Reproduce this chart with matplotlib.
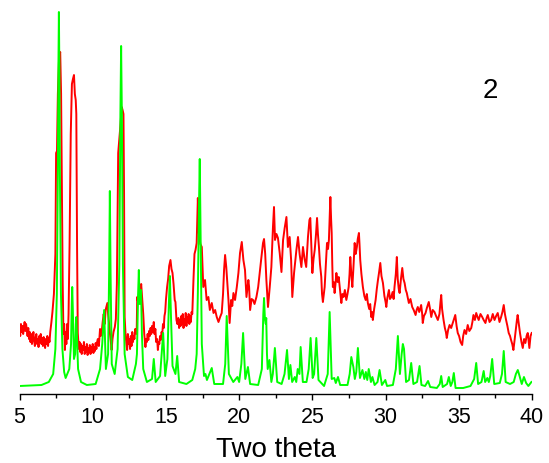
import matplotlib
matplotlib.use("Agg")
import matplotlib.pyplot as plt
from matplotlib.ticker import MultipleLocator

# ---- simulated pattern (green): two-theta, intensity ----
sim_tt = [5.0, 6.5, 7.0, 7.3, 7.45, 7.55, 7.62, 7.66, 7.69, 7.72, 7.76, 7.83, 7.93, 8.05, 8.15,
          8.4, 8.52, 8.57, 8.6, 8.64, 8.72, 8.8, 8.85, 8.88, 8.92, 9.0, 9.2, 9.6,
          10.2, 10.5, 10.65, 10.78, 10.9, 11.05, 11.12, 11.17, 11.22, 11.3, 11.5, 11.7, 11.82, 11.89, 11.94,
          11.99, 12.06, 12.18, 12.4, 12.7,
          12.95, 13.02, 13.1, 13.15, 13.2, 13.25, 13.3, 13.36, 13.45, 13.7, 14.05, 14.17, 14.3, 14.6, 14.81, 14.95,
          15.1, 15.2, 15.27, 15.34, 15.45,
          15.65, 15.77, 15.9, 16.4, 16.8, 17.0, 17.1, 17.18, 17.26, 17.31, 17.36, 17.45, 17.6, 17.7, 17.8, 18.13,
          18.3, 18.9,
          19.05, 19.15, 19.3, 19.6, 19.88, 20.0, 20.15, 20.27, 20.42, 20.6, 20.75, 21.3, 21.55, 21.65, 21.7, 21.76,
          21.82, 21.85, 21.9, 21.95,
          22.07, 22.2, 22.3, 22.44, 22.6, 22.9, 23.1, 23.27, 23.4, 23.5, 23.62, 23.8, 23.9, 24.0, 24.12, 24.2,
          24.35, 24.6, 24.75, 24.88, 25.02, 25.12, 25.27, 25.42, 25.8, 26.05, 26.18, 26.32, 26.5, 26.6, 26.75,
          26.9, 27.4, 27.55, 27.66, 27.8, 27.9, 28.0, 28.11, 28.25, 28.42, 28.55, 28.65, 28.75, 28.85, 29.0, 29.1,
          29.25, 29.45, 29.59, 29.75, 29.98, 30.1, 30.5, 30.7, 30.84, 30.98, 31.1, 31.18, 31.26, 31.4, 31.6, 31.75,
          31.9, 32.15, 32.32, 32.45, 32.7, 32.9, 33.05, 33.5, 33.7, 33.8, 33.9, 34.2, 34.32, 34.45, 34.56, 34.66,
          34.78, 35.3, 35.8, 36.05, 36.19, 36.32, 36.55, 36.7, 36.8, 36.95, 37.05, 37.15, 37.28, 37.42, 37.8,
          37.95, 38.07, 38.2, 38.5, 38.75, 38.9, 39.03, 39.15, 39.3, 39.45, 39.6, 39.75, 39.96]
sim_int = [8, 9, 12, 20, 45, 100, 220, 330, 382, 330, 220, 100, 45, 22, 16,
           25, 50, 90, 107, 85, 35, 40, 70, 77, 60, 25, 12, 9,
           10, 25, 50, 84, 25, 40, 120, 203, 120, 30, 20, 45, 130, 280, 348,
           280, 130, 40, 17, 14,
           30, 40, 100, 124, 90, 95, 104, 60, 25, 12, 15, 35, 12, 18, 61, 18,
           35, 90, 118, 80, 28,
           20, 38, 12, 10, 14, 25, 40, 101, 190, 235, 170, 50, 18, 20, 14, 26,
           10, 10,
           30, 78, 20, 12, 17, 12, 30, 61, 15, 27, 10, 9, 25, 80, 96, 75,
           70, 76, 40, 25,
           34, 12, 20, 46, 12, 10, 20, 44, 15, 29, 12, 17, 12, 25, 20, 47,
           12, 12, 25, 56, 16, 20, 56, 14, 8, 20, 82, 15, 16, 11, 17,
           9, 9, 20, 37, 27, 15, 22, 46, 16, 24, 15, 22, 14, 25, 12, 17,
           9, 12, 24, 9, 14, 8, 9, 25, 58, 20, 40, 50, 45, 12, 14, 31,
           10, 12, 28, 9, 8, 13, 7, 6, 10, 18, 7, 10, 17, 8, 12, 21,
           6, 6, 8, 15, 31, 10, 12, 23, 12, 16, 12, 18, 35, 10, 11,
           20, 43, 12, 10, 12, 20, 24, 18, 10, 17, 11, 8, 12]

# ---- experimental pattern (red): two-theta, intensity ----
exp_tt = [5.00, 5.05, 5.10, 5.15, 5.20, 5.25, 5.30, 5.35, 5.40, 5.45, 5.50, 5.55, 5.60, 5.65, 5.70, 5.75, 5.80,
          5.85, 5.90, 5.95, 6.00, 6.05, 6.10, 6.15, 6.20, 6.25, 6.30, 6.35, 6.40, 6.45, 6.50, 6.55, 6.60, 6.65,
          6.70, 6.75, 6.80, 6.85, 6.90, 6.95, 7.00, 7.05, 7.10, 7.18, 7.25, 7.35, 7.45, 7.50, 7.56, 7.62, 7.70,
          7.78, 7.84, 7.90, 7.95, 8.00, 8.05, 8.10, 8.15, 8.20, 8.25, 8.30, 8.35, 8.42, 8.50, 8.58, 8.65, 8.72,
          8.78, 8.84, 8.88, 8.93, 8.98, 9.05, 9.10, 9.15, 9.20, 9.25, 9.30, 9.35, 9.40, 9.45, 9.50, 9.55, 9.60,
          9.65, 9.70, 9.75, 9.80, 9.85, 9.90, 9.95, 10.00, 10.05, 10.10, 10.15, 10.20, 10.25, 10.30, 10.35, 10.42,
          10.50, 10.55, 10.60, 10.68, 10.75, 10.82, 10.88, 10.95, 11.00, 11.05, 11.12, 11.18, 11.24, 11.29, 11.35,
          11.42, 11.51, 11.58, 11.65, 11.74, 11.82, 11.90, 11.98, 12.04, 12.10, 12.14, 12.18, 12.24, 12.30, 12.35,
          12.40, 12.45, 12.50, 12.55, 12.60, 12.65, 12.70, 12.75, 12.80, 12.85, 12.90, 12.95, 13.00, 13.04, 13.10,
          13.18, 13.25, 13.31, 13.38, 13.45, 13.52, 13.60, 13.65, 13.70, 13.75, 13.80, 13.85, 13.90, 13.95, 14.00,
          14.05, 14.10, 14.17, 14.22, 14.28, 14.33, 14.40, 14.45, 14.50, 14.55, 14.60, 14.65, 14.70, 14.75, 14.80,
          14.85, 14.90, 14.95, 15.00, 15.08, 15.15, 15.22, 15.31, 15.38, 15.45, 15.52, 15.60, 15.65, 15.72, 15.78,
          15.85, 15.90, 15.95, 16.00, 16.05, 16.10, 16.15, 16.20, 16.25, 16.30, 16.35, 16.40, 16.45, 16.50, 16.55,
          16.60, 16.65, 16.70, 16.75, 16.80, 16.88, 16.95, 17.02, 17.10, 17.18, 17.25, 17.35, 17.45, 17.55, 17.67,
          17.78, 17.90, 18.00, 18.13, 18.25, 18.36, 18.47, 18.59, 18.70, 18.81, 18.90, 18.97, 19.04, 19.12, 19.20,
          19.27, 19.35, 19.45, 19.53, 19.61, 19.72, 19.84, 19.95, 20.06, 20.18, 20.29, 20.40, 20.50, 20.63, 20.68,
          20.75, 20.85, 20.95, 21.05, 21.18, 21.30, 21.40, 21.50, 21.63, 21.70, 21.78, 21.86, 21.97, 22.09, 22.20,
          22.31, 22.38, 22.45, 22.55, 22.65, 22.77, 22.89, 23.00, 23.11, 23.23, 23.33, 23.45, 23.55, 23.63, 23.75,
          23.91, 24.02, 24.13, 24.25, 24.36, 24.47, 24.58, 24.70, 24.80, 24.86, 24.95, 25.00, 25.08, 25.16, 25.25,
          25.32, 25.38, 25.45, 25.52, 25.61, 25.66, 25.72, 25.78, 25.84, 25.92, 26.00, 26.07, 26.13, 26.18, 26.23,
          26.28, 26.32, 26.36, 26.40, 26.46, 26.52, 26.58, 26.64, 26.72, 26.80, 26.88, 26.98, 27.05, 27.13, 27.22,
          27.32, 27.40, 27.48, 27.54, 27.59, 27.66, 27.73, 27.80, 27.89, 27.96, 28.04, 28.10, 28.18, 28.22, 28.27,
          28.35, 28.45, 28.55, 28.64, 28.72, 28.79, 28.88, 28.95, 29.02, 29.08, 29.13, 29.22, 29.32, 29.40, 29.48,
          29.56, 29.64, 29.72, 29.82, 29.92, 30.00, 30.05, 30.12, 30.23, 30.30, 30.39, 30.48, 30.55, 30.61, 30.70,
          30.77, 30.83, 30.90, 30.96, 31.05, 31.14, 31.22, 31.30, 31.38, 31.45, 31.52, 31.59, 31.70, 31.82, 31.92,
          32.05, 32.12, 32.20, 32.30, 32.43, 32.50, 32.54, 32.62, 32.73, 32.82, 32.95, 33.05, 33.12, 33.22, 33.34,
          33.45, 33.57, 33.68, 33.75, 33.80, 33.86, 33.96, 34.05, 34.12, 34.18, 34.27, 34.37, 34.48, 34.59, 34.68,
          34.76, 34.85, 34.93, 35.02, 35.12, 35.23, 35.30, 35.39, 35.50, 35.61, 35.72, 35.85, 35.93, 36.00, 36.10,
          36.19, 36.28, 36.36, 36.48, 36.60, 36.70, 36.82, 36.90, 36.98, 37.10, 37.21, 37.32, 37.44, 37.55, 37.66,
          37.78, 37.89, 37.98, 38.07, 38.15, 38.23, 38.32, 38.41, 38.50, 38.57, 38.65, 38.73, 38.82, 38.91, 38.97,
          39.02, 39.10, 39.18, 39.28, 39.37, 39.46, 39.55, 39.63, 39.71, 39.77, 39.82, 39.90, 39.98]
exp_int = [66, 58, 70, 62, 68, 60, 66, 72, 63, 70, 64, 58, 66, 55, 62, 52, 60,
           50, 57, 62, 53, 48, 56, 60, 50, 55, 47, 58, 52, 60, 50, 56, 48, 57,
           53, 46, 55, 50, 58, 48, 56, 52, 62, 72, 82, 100, 140, 241, 243, 300, 335,
           342, 300, 200, 110, 60, 70, 44, 62, 50, 70, 55, 80, 150, 260, 310, 315, 319,
           300, 294, 280, 150, 61, 45, 52, 42, 50, 40, 48, 44, 52, 40, 47, 42, 50,
           39, 46, 42, 49, 40, 47, 43, 50, 41, 47, 43, 51, 45, 52, 55, 48,
           65, 58, 60, 72, 80, 70, 84, 88, 91, 80, 70, 60, 52, 44, 55,
           62, 67, 75, 110, 241, 255, 270, 287, 284, 280, 200, 77, 60, 50, 44,
           60, 50, 55, 45, 58, 48, 62, 52, 58, 55, 65, 62, 60, 97, 92,
           104, 100, 110, 95, 80, 60, 47, 55, 52, 60, 54, 63, 58, 66, 60,
           68, 62, 72, 60, 65, 52, 55, 44, 52, 50, 58, 54, 62, 60, 70,
           66, 78, 82, 94, 107, 115, 128, 134, 125, 121, 110, 94, 92, 74, 70,
           76, 66, 74, 68, 78, 70, 80, 66, 75, 70, 81, 68, 77, 72, 80,
           70, 78, 72, 82, 80, 114, 140, 144, 151, 196, 161, 150, 147, 107, 114,
           94, 97, 84, 91, 81, 84, 77, 72, 77, 81, 100, 124, 139, 127, 110,
           94, 71, 94, 88, 101, 94, 107, 121, 141, 152, 134, 124, 97, 114, 107,
           84, 95, 94, 90, 97, 107, 121, 134, 151, 155, 140, 114, 87, 107, 127,
           167, 187, 154, 160, 156, 141, 122, 154, 166, 177, 147, 157, 134, 97, 121,
           144, 157, 140, 127, 147, 135, 127, 157, 174, 176, 140, 121, 135, 144, 160,
           176, 160, 147, 130, 117, 100, 92, 100, 107, 130, 151, 145, 154, 175, 197,
           175, 161, 130, 107, 112, 101, 110, 121, 112, 117, 105, 91, 100, 97, 104,
           94, 100, 107, 120, 137, 120, 107, 125, 151, 140, 147, 155, 161, 150, 134,
           120, 107, 98, 94, 100, 91, 85, 90, 77, 82, 74, 85, 94, 105, 114,
           122, 131, 118, 111, 98, 92, 87, 96, 104, 95, 97, 102, 95, 107, 120,
           137, 115, 105, 101, 115, 126, 115, 111, 104, 101, 96, 91, 95, 87, 84,
           79, 84, 87, 82, 89, 80, 71, 78, 81, 86, 92, 84, 77, 84, 82,
           78, 74, 80, 92, 99, 85, 74, 66, 62, 56, 64, 69, 66, 71, 75,
           79, 68, 61, 58, 52, 49, 58, 64, 60, 69, 63, 66, 72, 79, 74,
           81, 77, 74, 80, 77, 74, 71, 76, 79, 72, 74, 80, 74, 78, 81,
           72, 77, 82, 89, 80, 74, 68, 61, 58, 54, 50, 44, 55, 67, 74,
           79, 70, 61, 52, 46, 55, 51, 58, 61, 53, 46, 58, 61]

x_ticks = [5, 10, 15, 20, 25, 30, 35, 40]
x_label = "Two theta"
sample_label = "2"

plt.rcParams['font.family'] = ['Liberation Sans', 'DejaVu Sans']

fig = plt.figure(figsize=(5.49, 4.63), dpi=100)
ax = fig.add_axes([19.5 / 549, 69 / 463, 512.5 / 549, 394 / 463])

ax.plot(exp_tt, exp_int, color='#ff0000', lw=1.4, zorder=2)
ax.plot(sim_tt, sim_int, color='#00ff00', lw=1.4, zorder=3)

ax.set_xlim(5, 40)
ax.set_ylim(0, 394)
for s in ['left', 'right', 'top']:
    ax.spines[s].set_visible(False)
ax.spines['bottom'].set_linewidth(1.0)
ax.set_yticks([])
ax.set_xticks(x_ticks)
ax.xaxis.set_minor_locator(MultipleLocator(2.5))
ax.tick_params(axis='x', which='major', direction='out', length=4.5, width=1.0,
               labelsize=15.5, pad=5)
ax.tick_params(axis='x', which='minor', direction='out', length=3, width=1.0)
ax.set_xlabel(x_label, fontsize=20, labelpad=6)
ax.text(37.13, 296, sample_label, fontsize=20, ha='center', va='baseline')

fig.savefig("out.png", dpi=100)
